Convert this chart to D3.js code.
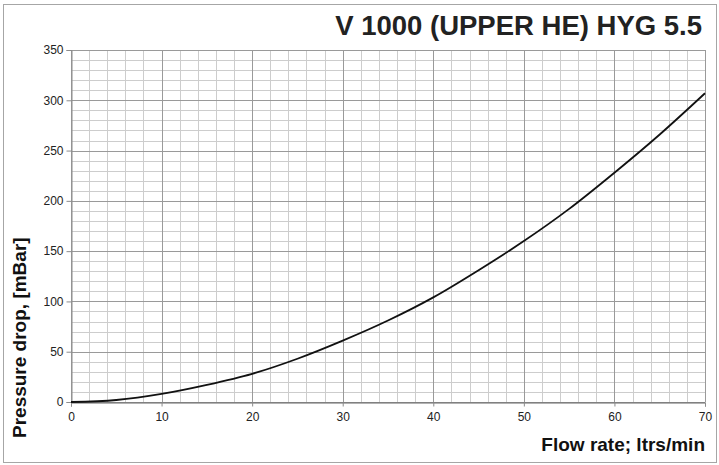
<!DOCTYPE html>
<html>
<head>
<meta charset="utf-8">
<script src="https://cdn.jsdelivr.net/npm/d3@7/dist/d3.min.js"></script>
<style>
  html, body { margin: 0; padding: 0; background: #fff; }
  svg { display: block; }
  text { font-family: "Liberation Sans", Arial, sans-serif; }
</style>
</head>
<body>
<svg id="chart" width="719" height="465"></svg>
<script>
const title = "V 1000 (UPPER HE) HYG 5.5";
const xLabel = "Flow rate; ltrs/min";
const yLabel = "Pressure drop, [mBar]";
const xTicks = [0, 10, 20, 30, 40, 50, 60, 70];
const yTicks = [0, 50, 100, 150, 200, 250, 300, 350];
const flow = [0, 5, 10, 15, 20, 25, 30, 35, 40, 45, 50, 55, 60, 65, 70];
const pressure = [0, 2, 8, 17, 28, 43, 61, 81, 104, 131, 160, 192, 228, 266, 307];

const svg = d3.select("#chart");
const m = { left: 71, right: 705, top: 50, bottom: 402 };

// outer frame
svg.append("rect").attr("x", 3.5).attr("y", 4.5).attr("width", 713).attr("height", 458)
  .attr("fill", "none").attr("stroke", "#a6a6a6").attr("stroke-width", 1);

const x = d3.scaleLinear().domain([0, 70]).range([m.left, m.right]);
const y = d3.scaleLinear().domain([0, 350]).range([m.bottom, m.top]);

// minor grid
const g = svg.append("g");
g.selectAll(".vminor").data(d3.range(0, 71, 2)).join("line")
  .attr("x1", d => Math.round(x(d)) + 0.5).attr("x2", d => Math.round(x(d)) + 0.5)
  .attr("y1", y(350)).attr("y2", y(0))
  .attr("stroke", "#cdcdcd").attr("stroke-width", 1);
g.selectAll(".hminor").data(d3.range(0, 351, 10)).join("line")
  .attr("y1", d => Math.round(y(d)) + 0.5).attr("y2", d => Math.round(y(d)) + 0.5)
  .attr("x1", x(0)).attr("x2", x(70))
  .attr("stroke", "#cdcdcd").attr("stroke-width", 1);
// major grid
g.selectAll(".vmajor").data(xTicks).join("line")
  .attr("x1", d => Math.round(x(d)) + 0.5).attr("x2", d => Math.round(x(d)) + 0.5)
  .attr("y1", y(350)).attr("y2", y(0))
  .attr("stroke", "#9a9a9a").attr("stroke-width", 1);
g.selectAll(".hmajor").data(yTicks).join("line")
  .attr("y1", d => Math.round(y(d)) + 0.5).attr("y2", d => Math.round(y(d)) + 0.5)
  .attr("x1", x(0)).attr("x2", x(70))
  .attr("stroke", "#9a9a9a").attr("stroke-width", 1);

// axes
const yAxis = d3.axisLeft(y).tickValues(yTicks).tickSize(5).tickPadding(3).tickFormat(d3.format("d"));
const yg = svg.append("g").attr("transform", `translate(${Math.round(x(0)) + 0.5},0)`).call(yAxis);
const xAxis = d3.axisBottom(x).tickValues(xTicks).tickSize(4).tickPadding(6).tickFormat(d3.format("d"));
const xg = svg.append("g").attr("transform", `translate(0,${Math.round(y(0)) + 0.5})`).call(xAxis);
[yg, xg].forEach(a => {
  a.select(".domain").attr("stroke", "#8c8c8c");
  a.selectAll(".tick line").attr("stroke", "#8c8c8c");
  a.selectAll(".tick text").attr("fill", "#222").attr("font-size", 12)
    .attr("font-family", "Liberation Sans, Arial, sans-serif");
});
xg.select(".domain").attr("stroke", "#666");

// curve
const pts = flow.map((f, i) => [f, pressure[i]]);
svg.append("path").datum(pts)
  .attr("fill", "none").attr("stroke", "#111").attr("stroke-width", 1.8)
  .attr("d", d3.line().x(d => x(d[0])).y(d => y(d[1])).curve(d3.curveMonotoneX));

// title
svg.append("text").attr("x", 702).attr("y", 35).attr("text-anchor", "end")
  .attr("font-size", 27.5).attr("font-weight", "bold").attr("fill", "#222").text(title);
// x label
svg.append("text").attr("x", 705).attr("y", 451).attr("text-anchor", "end")
  .attr("font-size", 19).attr("font-weight", "bold").attr("fill", "#111").text(xLabel);
// y label
svg.append("text").attr("transform", "translate(26,438) rotate(-90)").attr("text-anchor", "start")
  .attr("font-size", 19).attr("font-weight", "bold").attr("fill", "#111").text(yLabel);
</script>
</body>
</html>
